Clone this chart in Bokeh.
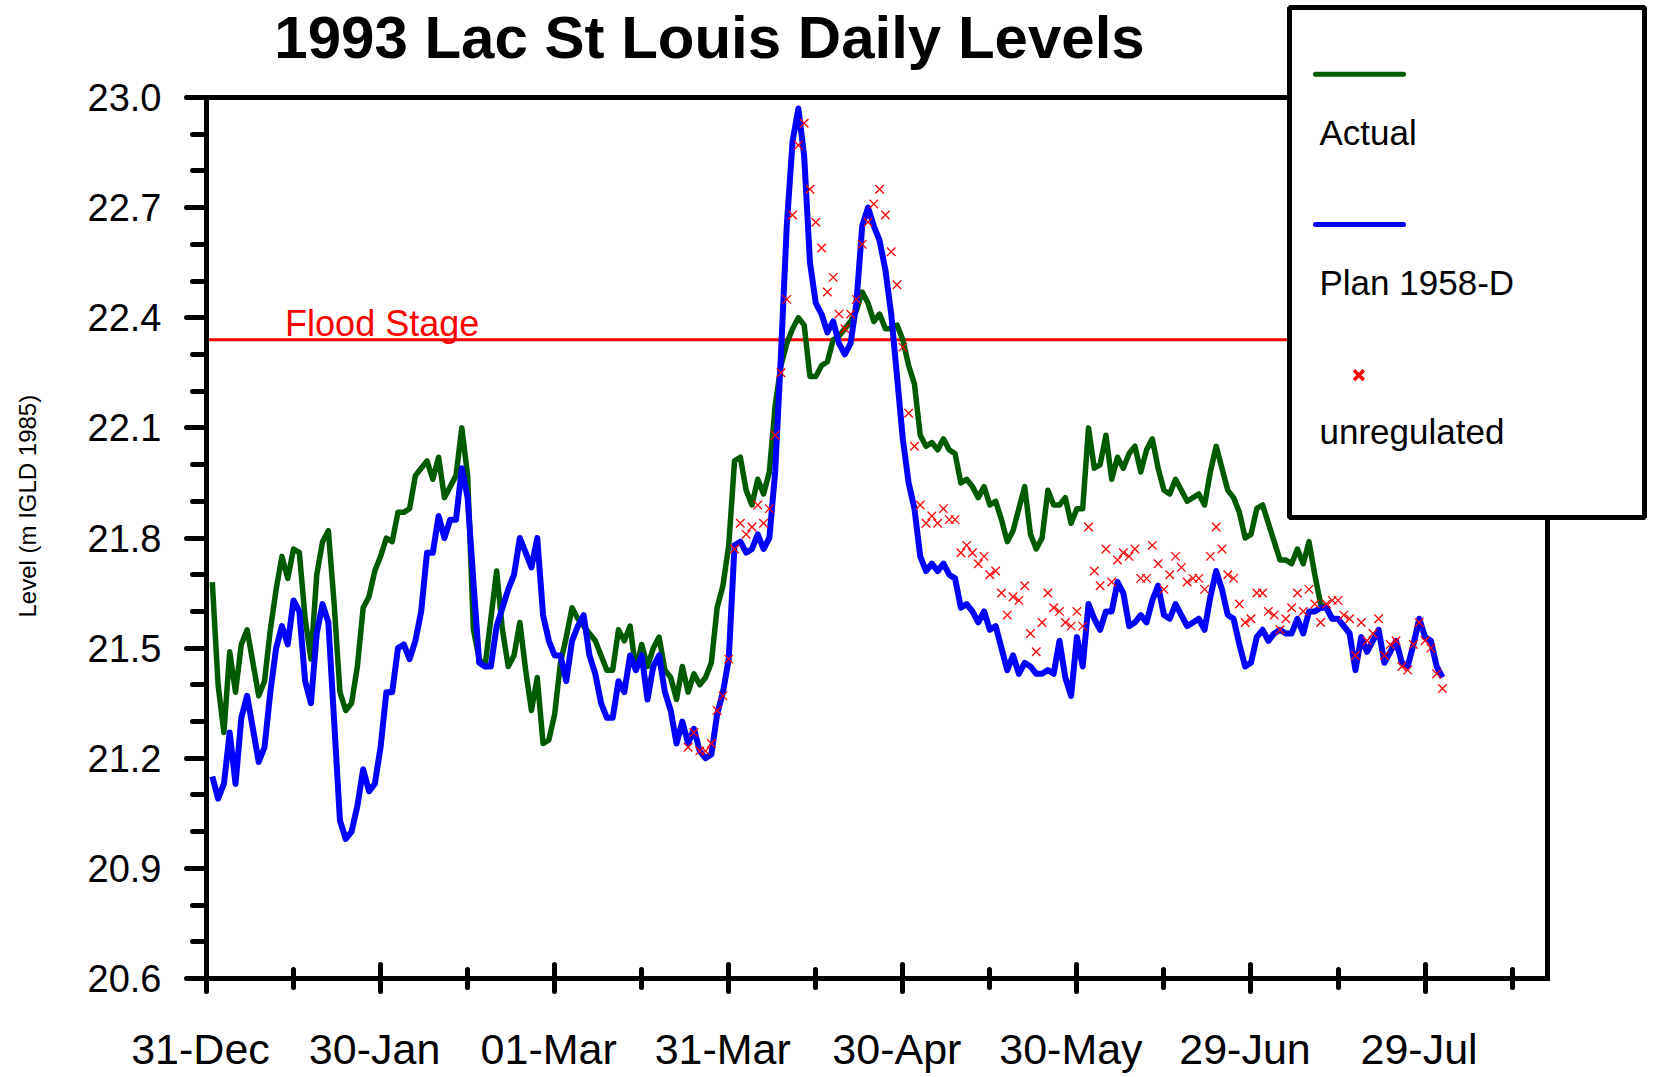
import pandas as pd
from bokeh.plotting import figure
from bokeh.models import (Range1d, LinearAxis, FixedTicker, NumeralTickFormatter,
                          Label, BoxAnnotation, Arrow)
from bokeh.embed import file_html
from bokeh.resources import INLINE

# ---------------- data ----------------
title_text = "1993 Lac St Louis Daily Levels"
y_axis_title = "Level (m IGLD 1985)"
axis_origin = "1992-12-31"
actual_start = "1993-01-01"
plan_start = "1993-01-01"
unregulated_start = "1993-03-24"
flood_stage = 22.34
flood_label = "Flood Stage"

actual = [
    21.68, 21.40, 21.27, 21.49, 21.38, 21.51, 21.55, 21.46, 21.37, 21.41,
    21.55, 21.66, 21.75, 21.69, 21.77, 21.76, 21.58, 21.47, 21.70, 21.79,
    21.82, 21.62, 21.38, 21.33, 21.35, 21.45, 21.61, 21.64, 21.71, 21.75,
    21.80, 21.79, 21.87, 21.87, 21.88, 21.97, 21.99, 22.01, 21.96, 22.02,
    21.91, 21.94, 21.97, 22.10, 21.97, 21.55, 21.47, 21.45, 21.58, 21.71,
    21.55, 21.45, 21.48, 21.57, 21.44, 21.33, 21.42, 21.24, 21.25, 21.32,
    21.46, 21.53, 21.61, 21.58, 21.56, 21.54, 21.52, 21.48, 21.44, 21.44,
    21.55, 21.52, 21.56, 21.44, 21.51, 21.45, 21.50, 21.53, 21.44, 21.42,
    21.36, 21.45, 21.38, 21.43, 21.40, 21.42, 21.46, 21.61, 21.67, 21.78,
    22.01, 22.02, 21.93, 21.89, 21.96, 21.92, 21.98, 22.16, 22.27, 22.33,
    22.37, 22.40, 22.38, 22.24, 22.24, 22.27, 22.28, 22.34, 22.35, 22.37,
    22.39, 22.42, 22.47, 22.44, 22.39, 22.41, 22.37, 22.37, 22.38, 22.34,
    22.27, 22.22, 22.08, 22.05, 22.06, 22.04, 22.07, 22.04, 22.03, 21.95,
    21.96, 21.94, 21.91, 21.94, 21.89, 21.90, 21.85, 21.79, 21.82, 21.88,
    21.94, 21.81, 21.77, 21.80, 21.93, 21.89, 21.89, 21.91, 21.84, 21.88,
    21.88, 22.10, 21.99, 22.00, 22.08, 21.96, 22.02, 21.99, 22.03, 22.05,
    21.98, 22.04, 22.07, 21.99, 21.93, 21.92, 21.96, 21.93, 21.90, 21.91,
    21.92, 21.89, 21.98, 22.05, 21.99, 21.93, 21.91, 21.87, 21.80, 21.81,
    21.88, 21.89, 21.84, 21.79, 21.74, 21.74, 21.73, 21.77, 21.73, 21.79,
    21.70, 21.62, 21.61, 21.58, 21.58, 21.56, 21.54,
]

plan_1958d = [
    21.15, 21.09, 21.13, 21.27, 21.13, 21.31, 21.37, 21.28, 21.19, 21.23,
    21.38, 21.50, 21.56, 21.51, 21.63, 21.60, 21.41, 21.35, 21.54, 21.62,
    21.57, 21.30, 21.03, 20.98, 21.00, 21.07, 21.17, 21.11, 21.13, 21.23,
    21.38, 21.38, 21.50, 21.51, 21.47, 21.52, 21.60, 21.76, 21.76, 21.86,
    21.80, 21.85, 21.85, 21.99, 21.91, 21.68, 21.46, 21.45, 21.45, 21.56,
    21.61, 21.66, 21.70, 21.80, 21.76, 21.72, 21.80, 21.59, 21.52, 21.48,
    21.48, 21.41, 21.52, 21.56, 21.59, 21.48, 21.43, 21.35, 21.31, 21.31,
    21.41, 21.38, 21.48, 21.44, 21.48, 21.36, 21.45, 21.48, 21.38, 21.33,
    21.24, 21.30, 21.24, 21.28, 21.22, 21.20, 21.21, 21.32, 21.38, 21.47,
    21.78, 21.79, 21.76, 21.77, 21.81, 21.77, 21.80, 21.98, 22.30, 22.65,
    22.88, 22.97, 22.84, 22.55, 22.44, 22.41, 22.36, 22.39, 22.33, 22.30,
    22.33, 22.44, 22.65, 22.70, 22.65, 22.61, 22.53, 22.41, 22.24, 22.07,
    21.95, 21.88, 21.75, 21.71, 21.73, 21.71, 21.73, 21.70, 21.69, 21.61,
    21.62, 21.60, 21.57, 21.60, 21.55, 21.56, 21.50, 21.44, 21.48, 21.43,
    21.46, 21.45, 21.43, 21.43, 21.44, 21.43, 21.52, 21.42, 21.37, 21.53,
    21.45, 21.62, 21.58, 21.55, 21.60, 21.60, 21.68, 21.65, 21.56, 21.57,
    21.59, 21.57, 21.63, 21.67, 21.59, 21.58, 21.62, 21.59, 21.56, 21.57,
    21.58, 21.55, 21.64, 21.71, 21.66, 21.59, 21.58, 21.51, 21.45, 21.46,
    21.53, 21.55, 21.52, 21.54, 21.55, 21.54, 21.54, 21.58, 21.54, 21.60,
    21.60, 21.61, 21.61, 21.58, 21.58, 21.56, 21.54, 21.44, 21.53, 21.49,
    21.52, 21.55, 21.46, 21.49, 21.52, 21.46, 21.45, 21.51, 21.58, 21.53,
    21.52, 21.45, 21.42,
]

unregulated = [
    21.23, 21.27, 21.22, 21.22, 21.24, 21.33, 21.37, 21.47, 21.77, 21.84,
    21.81, 21.83, 21.89, 21.84, 21.88, 22.08, 22.25, 22.45, 22.68, 22.87,
    22.93, 22.75, 22.66, 22.59, 22.47, 22.51, 22.41, 22.37, 22.41, 22.45,
    22.60, 22.66, 22.71, 22.75, 22.68, 22.58, 22.49, 22.32, 22.14, 22.05,
    21.89, 21.84, 21.86, 21.84, 21.88, 21.85, 21.85, 21.76, 21.78, 21.76,
    21.73, 21.75, 21.70, 21.71, 21.65, 21.59, 21.64, 21.63, 21.67, 21.54,
    21.49, 21.57, 21.65, 21.61, 21.60, 21.57, 21.56, 21.60, 21.56, 21.83,
    21.71, 21.67, 21.77, 21.68, 21.74, 21.76, 21.75, 21.77, 21.69, 21.69,
    21.78, 21.73, 21.66, 21.70, 21.75, 21.72, 21.68, 21.69, 21.69, 21.66,
    21.75, 21.83, 21.77, 21.70, 21.69, 21.62, 21.57, 21.58, 21.65, 21.65,
    21.60, 21.59, 21.55, 21.58, 21.61, 21.65, 21.60, 21.66, 21.62, 21.57,
    21.62, 21.63, 21.63, 21.59, 21.58, 21.48, 21.57, 21.52, 21.54, 21.58,
    21.48, 21.51, 21.52, 21.45, 21.44, 21.51, 21.57, 21.52, 21.50, 21.43,
    21.39,
]

x_major_days = [0, 30, 60, 90, 120, 150, 180, 210]
x_tick_labels = ["31-Dec", "30-Jan", "01-Mar", "31-Mar", "30-Apr", "30-May", "29-Jun", "29-Jul"]
y_ticks = [20.6, 20.9, 21.2, 21.5, 21.8, 22.1, 22.4, 22.7, 23.0]
legend_labels = ["Actual", "Plan 1958-D", "unregulated"]

# ---------------- helpers ----------------
origin = pd.Timestamp(axis_origin)


def day_numbers(start, n):
    return [int(d) for d in (pd.date_range(start, periods=n) - origin).days]


x_actual = day_numbers(actual_start, len(actual))
x_plan = day_numbers(plan_start, len(plan_1958d))
x_unreg = day_numbers(unregulated_start, len(unregulated))

# ---------------- geometry ----------------
W, H = 1653, 1077
AX_X0, AX_X1 = 0.0, 231.1        # extent of the drawn x axis (days after 31-Dec)
AX_Y0, AX_Y1 = 20.6, 23.0        # extent of the drawn y axis (m)
L, R, T, B = 206, 1547, 97, 978  # pixel box of the axes
PPD = (R - L) / (AX_X1 - AX_X0)
PPM = (B - T) / (AX_Y1 - AX_Y0)
X_END = AX_X1 + (W - R) / PPD    # frame reaches the right edge of the canvas
Y_END = AX_Y1 + T / PPM          # frame reaches the top of the canvas


def dx(sx):
    return AX_X0 + (sx - L) / PPD


def dy(sy):
    return AX_Y1 - (sy - T) / PPM


FONT = "Liberation Sans"
GREEN = "#005a00"
BLUE = "#0000ff"
RED = "#ff0000"
MID = 0.3465   # baseline offset of a "middle" anchored text, in em
NBSP = "\u00a0"

p = figure(width=W, height=H, title=None,
           x_range=Range1d(AX_X0, X_END), y_range=Range1d(AX_Y0, Y_END),
           output_backend="svg", toolbar_location=None,
           min_border_left=L, min_border_right=0,
           min_border_top=0, min_border_bottom=H - B)
p.xgrid.visible = False
p.ygrid.visible = False
p.outline_line_color = None
p.background_fill_color = "white"
p.border_fill_color = "white"

# x axis (a trailing no-break space sets each date a few px left of its tick, as in the original)
xa = p.xaxis[0]
xa.bounds = (AX_X0, AX_X1)
xa.ticker = FixedTicker(ticks=x_major_days,
                        minor_ticks=[d + 15 for d in x_major_days])
xa.major_label_overrides = {d: lab + NBSP for d, lab in zip(x_major_days, x_tick_labels)}
xa.axis_line_width = 5
xa.axis_line_cap = "square"
xa.major_tick_line_width = 5
xa.minor_tick_line_width = 5
xa.major_tick_line_cap = "round"
xa.minor_tick_line_cap = "round"
xa.major_tick_in = 14
xa.major_tick_out = 13
xa.minor_tick_in = 9
xa.minor_tick_out = 9
xa.major_label_text_font = FONT
xa.major_label_text_font_size = "43px"
xa.major_label_text_color = "black"
xa.major_label_standoff = 33

# y axis
ya = p.yaxis[0]
ya.bounds = (AX_Y0, AX_Y1)
ya.ticker = FixedTicker(ticks=y_ticks,
                        minor_ticks=[round(AX_Y0 + 0.1 * i, 1) for i in range(25)])
ya.formatter = NumeralTickFormatter(format="0.0")
ya.axis_line_width = 5
ya.axis_line_cap = "square"
ya.major_tick_line_width = 5
ya.minor_tick_line_width = 5
ya.major_tick_line_cap = "round"
ya.minor_tick_line_cap = "round"
ya.major_tick_in = 0
ya.major_tick_out = 20
ya.minor_tick_in = 0
ya.minor_tick_out = 14
ya.major_label_text_font = FONT
ya.major_label_text_font_size = "38px"
ya.major_label_text_color = "black"
ya.major_label_standoff = 25

# outer axis that only carries the y title; trailing no-break spaces nudge the
# visible words down to where the original centres them
title_axis = LinearAxis(bounds=(AX_Y0, AX_Y1), ticker=FixedTicker(ticks=[]),
                        axis_line_color=None, major_tick_out=0, major_tick_in=0,
                        minor_tick_out=0, minor_tick_in=0,
                        axis_label=y_axis_title + NBSP * 5, axis_label_text_font=FONT,
                        axis_label_text_font_size="24px",
                        axis_label_text_font_style="normal",
                        axis_label_text_color="black", axis_label_standoff=44)
p.add_layout(title_axis, "left")

# flood stage line (under the series) and its label
p.line([AX_X0, AX_X1], [flood_stage, flood_stage], line_color=RED, line_width=3)
p.add_layout(Label(x=dx(284.6), y=dy(335 - MID * 36), text=flood_label,
                   text_color=RED, text_font=FONT, text_font_size="36px",
                   text_baseline="middle", text_align="left"))

# series
p.line(x_actual, actual, line_color=GREEN, line_width=5.5, line_join="round")
p.line(x_plan, plan_1958d, line_color=BLUE, line_width=6, line_join="round")
p.scatter(x_unreg, unregulated, marker="x", size=12, line_color=RED, line_width=1.3)

# top and right frame lines
p.line([AX_X0, AX_X1], [AX_Y1, AX_Y1], line_color="black", line_width=5, line_cap="square")
p.line([AX_X1, AX_X1], [AX_Y0, AX_Y1], line_color="black", line_width=5, line_cap="square")

# title
p.add_layout(Label(x=dx(709), y=dy(3), text=title_text, text_font=FONT,
                   text_font_size="60px", text_font_style="bold",
                   text_align="center", text_baseline="top",
                   text_color="black"))

# legend
p.add_layout(BoxAnnotation(left=dx(1289), right=dx(1644), top=dy(7), bottom=dy(517),
                           fill_color="white", fill_alpha=1.0, line_color="black",
                           line_alpha=1.0, line_width=5))
for sy, col in ((73.7, GREEN), (224.1, BLUE)):
    p.add_layout(Arrow(end=None, x_start=dx(1315), x_end=dx(1403), y_start=dy(sy), y_end=dy(sy),
                       line_color=col, line_width=5, line_cap="round"))
for sy, lab in zip((143.7, 294.1, 442.9), legend_labels):
    p.add_layout(Label(x=dx(1319), y=dy(sy - MID * 35), text=lab, text_font=FONT,
                       text_font_size="35px", text_align="left",
                       text_baseline="middle", text_color="black"))
legend_marker = p.scatter([dx(1358.4)], [dy(374.6)], marker="x", size=14,
                          line_color=RED, line_width=3.5)
legend_marker.level = "overlay"

open("out.html", "w").write(file_html(p, INLINE))
